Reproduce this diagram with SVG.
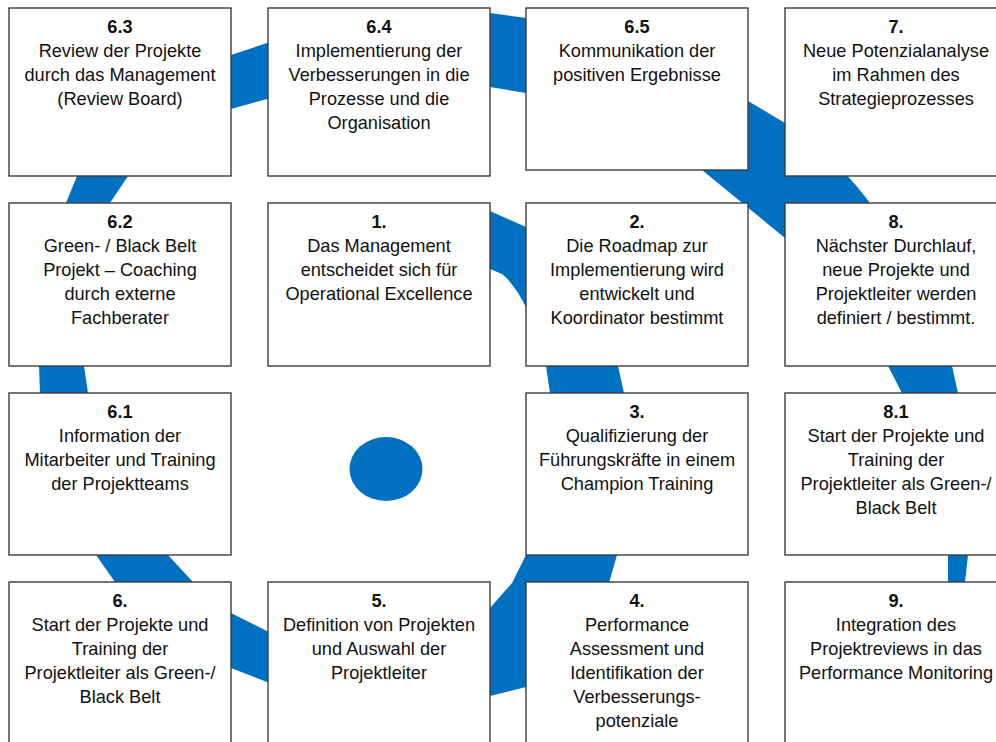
<svg xmlns="http://www.w3.org/2000/svg" width="996" height="742" viewBox="0 0 996 742">
<style>
.box{fill:#fff;stroke:#3c3c3c;stroke-width:1.4}
.t{font-family:"Liberation Sans",Arial,sans-serif;font-size:18.2px;fill:#111;text-anchor:middle}
.n{font-weight:bold}
.blue{fill:#0070C0}
</style>
<rect width="996" height="742" fill="#fff"/>
<g id="spiral">
<path class="blue" d="M 380 228 Q 440 205 490 211 L 526 227 C 575 248 612 320 618 366 L 624 393 C 630 450 626 515 617 555 L 609 583 C 598 635 565 675 526 687 L 490 696 C 420 714 320 705 267 682 L 231 668 C 185 650 140 615 115 582 L 96 555 C 70 518 42 450 40 393 L 39 366 C 37 310 50 245 66 203 L 77 176 C 105 110 170 75 231 55 L 267 43 C 330 22 420 10 490 13 L 526 18 C 610 30 700 70 748 101 L 785 123 C 815 140 845 170 870 203 C 905 250 945 315 952 366 L 958 393 C 965 450 970 515 968 555 L 965 582 C 963 610 960 625 956 645 C 950 620 948 600 948 582 L 948 555 C 946 495 928 440 902 393 L 888 366 C 865 310 825 265 785 238 L 702 170 C 650 125 585 100 526 93 L 490 87 C 400 78 320 85 267 99 L 231 109 C 185 125 145 150 128 176 L 110 203 C 90 250 80 310 84 366 L 88 393 C 95 460 125 515 168 555 L 193 582 C 205 595 218 606 231 613 L 267 631 C 330 655 440 650 490 608 L 512 583 L 526 555 C 540 500 556 440 550 393 L 546 366 C 538 330 522 290 502 274 L 490 269 C 450 262 410 242 380 228 Z"/>
</g>
<ellipse id="centerDot" class="blue" cx="386" cy="469" rx="36.5" ry="32"/>
<g id="n6_3"><rect class="box" x="9" y="8" width="222" height="168"/>
<text class="t"><tspan class="n" x="120" y="32.5">6.3</tspan><tspan x="120" y="56.5">Review der Projekte</tspan><tspan x="120" y="80.5">durch das Management</tspan><tspan x="120" y="104.5">(Review Board)</tspan></text></g>
<g id="n6_4"><rect class="box" x="268" y="8" width="222" height="168"/>
<text class="t"><tspan class="n" x="379" y="32.5">6.4</tspan><tspan x="379" y="56.5">Implementierung der</tspan><tspan x="379" y="80.5">Verbesserungen in die</tspan><tspan x="379" y="104.5">Prozesse und die</tspan><tspan x="379" y="128.5">Organisation</tspan></text></g>
<g id="n6_5"><rect class="box" x="526" y="8" width="222" height="162"/>
<text class="t"><tspan class="n" x="637" y="32.5">6.5</tspan><tspan x="637" y="56.5">Kommunikation der</tspan><tspan x="637" y="80.5">positiven Ergebnisse</tspan></text></g>
<g id="n7"><rect class="box" x="785" y="8" width="222" height="168"/>
<text class="t"><tspan class="n" x="896" y="32.5">7.</tspan><tspan x="896" y="56.5">Neue Potenzialanalyse</tspan><tspan x="896" y="80.5">im Rahmen des</tspan><tspan x="896" y="104.5">Strategieprozesses</tspan></text></g>
<g id="n6_2"><rect class="box" x="9" y="203" width="222" height="163"/>
<text class="t"><tspan class="n" x="120" y="227.5">6.2</tspan><tspan x="120" y="251.5">Green- / Black Belt</tspan><tspan x="120" y="275.5">Projekt – Coaching</tspan><tspan x="120" y="299.5">durch externe</tspan><tspan x="120" y="323.5">Fachberater</tspan></text></g>
<g id="n1"><rect class="box" x="268" y="203" width="222" height="163"/>
<text class="t"><tspan class="n" x="379" y="227.5">1.</tspan><tspan x="379" y="251.5">Das Management</tspan><tspan x="379" y="275.5">entscheidet sich für</tspan><tspan x="379" y="299.5">Operational Excellence</tspan></text></g>
<g id="n2"><rect class="box" x="526" y="203" width="222" height="163"/>
<text class="t"><tspan class="n" x="637" y="227.5">2.</tspan><tspan x="637" y="251.5">Die Roadmap zur</tspan><tspan x="637" y="275.5">Implementierung wird</tspan><tspan x="637" y="299.5">entwickelt und</tspan><tspan x="637" y="323.5">Koordinator bestimmt</tspan></text></g>
<g id="n8"><rect class="box" x="785" y="203" width="222" height="163"/>
<text class="t"><tspan class="n" x="896" y="227.5">8.</tspan><tspan x="896" y="251.5">Nächster Durchlauf,</tspan><tspan x="896" y="275.5">neue Projekte und</tspan><tspan x="896" y="299.5">Projektleiter werden</tspan><tspan x="896" y="323.5">definiert / bestimmt.</tspan></text></g>
<g id="n6_1"><rect class="box" x="9" y="393" width="222" height="162"/>
<text class="t"><tspan class="n" x="120" y="417.5">6.1</tspan><tspan x="120" y="441.5">Information der</tspan><tspan x="120" y="465.5">Mitarbeiter und Training</tspan><tspan x="120" y="489.5">der Projektteams</tspan></text></g>
<g id="n3"><rect class="box" x="526" y="393" width="222" height="162"/>
<text class="t"><tspan class="n" x="637" y="417.5">3.</tspan><tspan x="637" y="441.5">Qualifizierung der</tspan><tspan x="637" y="465.5">Führungskräfte in einem</tspan><tspan x="637" y="489.5">Champion Training</tspan></text></g>
<g id="n8_1"><rect class="box" x="785" y="393" width="222" height="162"/>
<text class="t"><tspan class="n" x="896" y="417.5">8.1</tspan><tspan x="896" y="441.5">Start der Projekte und</tspan><tspan x="896" y="465.5">Training der</tspan><tspan x="896" y="489.5">Projektleiter als Green-/</tspan><tspan x="896" y="513.5">Black Belt</tspan></text></g>
<g id="n6"><rect class="box" x="9" y="582" width="222" height="180"/>
<text class="t"><tspan class="n" x="120" y="606.5">6.</tspan><tspan x="120" y="630.5">Start der Projekte und</tspan><tspan x="120" y="654.5">Training der</tspan><tspan x="120" y="678.5">Projektleiter als Green-/</tspan><tspan x="120" y="702.5">Black Belt</tspan></text></g>
<g id="n5"><rect class="box" x="268" y="582" width="222" height="180"/>
<text class="t"><tspan class="n" x="379" y="606.5">5.</tspan><tspan x="379" y="630.5">Definition von Projekten</tspan><tspan x="379" y="654.5">und Auswahl der</tspan><tspan x="379" y="678.5">Projektleiter</tspan></text></g>
<g id="n4"><rect class="box" x="526" y="582" width="222" height="180"/>
<text class="t"><tspan class="n" x="637" y="606.5">4.</tspan><tspan x="637" y="630.5">Performance</tspan><tspan x="637" y="654.5">Assessment und</tspan><tspan x="637" y="678.5">Identifikation der</tspan><tspan x="637" y="702.5">Verbesserungs-</tspan><tspan x="637" y="726.5">potenziale</tspan></text></g>
<g id="n9"><rect class="box" x="785" y="582" width="222" height="180"/>
<text class="t"><tspan class="n" x="896" y="606.5">9.</tspan><tspan x="896" y="630.5">Integration des</tspan><tspan x="896" y="654.5">Projektreviews in das</tspan><tspan x="896" y="678.5">Performance Monitoring</tspan></text></g>
</svg>
